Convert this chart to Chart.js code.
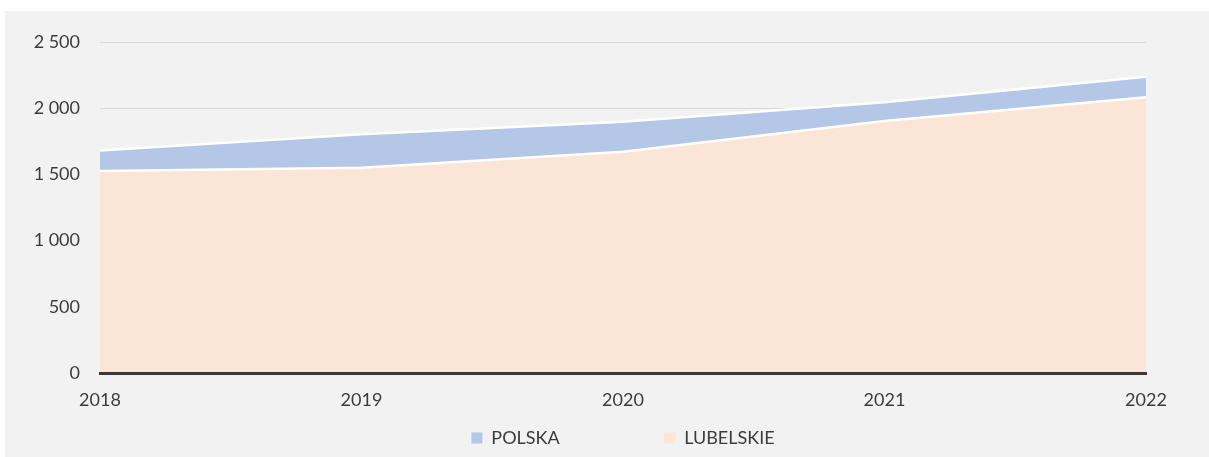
<!DOCTYPE html>
<html>
<head>
<meta charset="utf-8">
<script src="https://cdn.jsdelivr.net/npm/chart.js@4/dist/chart.umd.min.js"></script>
<style>
    html, body { margin: 0; padding: 0; background: #ffffff; }
    #wrap { position: absolute; left: 5px; top: 11px; width: 1204px; height: 446px; background: #f2f2f2; }
    canvas { display: block; }
</style>
</head>
<body>
<div id="wrap"><canvas id="chart" width="1204" height="446"></canvas></div>
<script>
const years = ['2018', '2019', '2020', '2021', '2022'];
const polska = [1680, 1803, 1898, 2045, 2237];
const lubelskie = [1525, 1550, 1671, 1903, 2082];
const seriesNames = ['POLSKA', 'LUBELSKIE'];
const yTicks = [0, 500, 1000, 1500, 2000, 2500];

const textColor = '#3c3c3c';
Chart.defaults.font.family = 'Lato, "Open Sans", sans-serif';
Chart.defaults.font.size = 18;
Chart.defaults.color = textColor;

// spacja jako separator tysięcy
function fmt(v) {
    return String(v).replace(/\B(?=(\d{3})+(?!\d))/g, ' ');
}

const ctx = document.getElementById('chart').getContext('2d');
new Chart(ctx, {
    type: 'line',
    data: {
        labels: years,
        datasets: [{
            label: seriesNames[0],
            data: polska,
            order: 2,
            backgroundColor: '#b4c7e7',
            borderColor: '#ffffff',
            borderWidth: 2.5,
            pointRadius: 0,
            tension: 0,
            fill: 'origin'
        }, {
            label: seriesNames[1],
            data: lubelskie,
            order: 1,
            backgroundColor: '#fbe5d6',
            borderColor: '#ffffff',
            borderWidth: 2.5,
            pointRadius: 0,
            tension: 0,
            fill: 'origin'
        }]
    },
    options: {
        responsive: false,
        animation: false,
        layout: { padding: { left: 0, right: 63, top: 31, bottom: 0 } },
        plugins: {
            tooltip: { enabled: false },
            legend: {
                position: 'bottom',
                fullSize: false,
                labels: {
                    boxWidth: 11,
                    boxHeight: 11,
                    padding: 10,
                    color: textColor,
                    sort: (a, b) => a.datasetIndex - b.datasetIndex,
                    generateLabels: (chart) => {
                        const items = Chart.defaults.plugins.legend.labels.generateLabels(chart);
                        return items.map(it => {
                            it.lineWidth = 0;
                            it.strokeStyle = 'rgba(0,0,0,0)';
                            // odstęp między pozycjami legendy jak w Excelu
                            if (it.datasetIndex === 0) it.text = it.text + '\u2003'.repeat(7);
                            return it;
                        });
                    }
                }
            }
        },
        scales: {
            x: {
                offset: false,
                grid: { display: false, drawTicks: false },
                border: { display: true, color: '#3a3a3a', width: 3, z: 1 },
                ticks: { padding: 16, maxRotation: 0, autoSkip: false },
                afterFit: (scale) => { scale.height = 46; }
            },
            y: {
                min: 0,
                max: 2500,
                afterBuildTicks: (scale) => { scale.ticks = yTicks.map(v => ({ value: v })); },
                grid: { color: '#d9d9d9', lineWidth: 1, drawTicks: false },
                border: { display: false },
                ticks: { padding: 20, callback: (v) => fmt(v) },
                afterFit: (scale) => { scale.width = 95; }
            }
        }
    }
});
</script>
</body>
</html>
